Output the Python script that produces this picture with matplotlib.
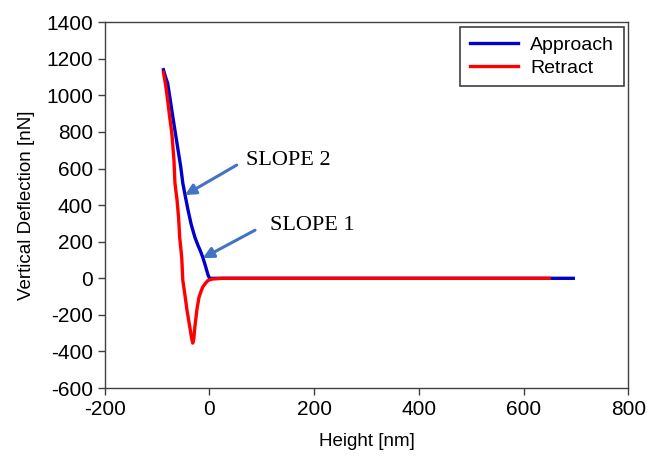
import matplotlib
matplotlib.use("Agg")
import matplotlib.pyplot as plt

plt.rcParams['font.family'] = ['Liberation Sans', 'DejaVu Sans']
plt.rcParams['axes.unicode_minus'] = False

# approach curve (blue)
approach_x = [-88, -84, -80, -75, -70, -65, -60, -55, -51, -46, -41, -35, -28, -22, -18, -13, -8, -3, 0, 100, 300, 500, 695]
approach_y = [1140, 1100, 1067, 975, 881, 790, 700, 610, 520, 445, 373, 295, 225, 180, 154, 116, 70, 20, 0, 0, 0, 0, 0]

# retract curve (red)
retract_x = [-88, -84, -80, -76, -72, -68, -66, -62, -59, -57, -55, -53, -51, -47, -43, -38, -34, -32, -30, -28, -24, -20, -16, -13, -8, -3, 5, 25, 100, 300, 500, 649]
retract_y = [1125, 1060, 974, 880, 793, 650, 520, 427, 330, 225, 170, 110, -10, -90, -174, -260, -330, -354, -330, -267, -170, -103, -70, -48, -28, -12, -4, 0, 0, 0, 0, 0]

fig = plt.figure(figsize=(6.47, 4.62), dpi=100)
ax = fig.add_axes([0.162, 0.160, 0.809, 0.792])

ax.plot(approach_x, approach_y, color='#0000CC', lw=2.4, label='Approach')
ax.plot(retract_x, retract_y, color='#FF0000', lw=2.4, label='Retract')

ax.set_xlim(-200, 800)
ax.set_ylim(-600, 1400)
ax.set_xticks(range(-200, 801, 200))
ax.set_yticks(range(-600, 1401, 200))
ax.tick_params(direction='out', length=5, width=1, color='#404040', labelsize=15, top=False, right=False)
for s in ax.spines.values():
    s.set_color('#404040')
    s.set_linewidth(1)

ax.set_xlabel('Height [nm]', fontsize=13.5, labelpad=10)
ax.set_ylabel('Vertical Deflection [nN]', fontsize=13.5, labelpad=8)

leg = ax.legend(loc='upper right', fontsize=14, handlelength=2.5, fancybox=False,
                edgecolor='#404040', framealpha=1, borderpad=0.5, labelspacing=0.25,
                handletextpad=0.6, borderaxespad=0, bbox_to_anchor=(0.991, 0.987))
leg.get_frame().set_linewidth(1.2)

arrow = dict(arrowstyle='-|>', color='#4472C4', lw=2.2, mutation_scale=16, shrinkA=0, shrinkB=0)
ax.text(70, 646, 'SLOPE 2', fontsize=16, family='Liberation Serif', va='center', ha='left')
ax.annotate('', xy=(-47, 455), xytext=(52, 619), arrowprops=arrow)
ax.text(115, 291, 'SLOPE 1', fontsize=16, family='Liberation Serif', va='center', ha='left')
ax.annotate('', xy=(-13, 110), xytext=(87, 263), arrowprops=arrow)

fig.savefig('out.png', dpi=100)
